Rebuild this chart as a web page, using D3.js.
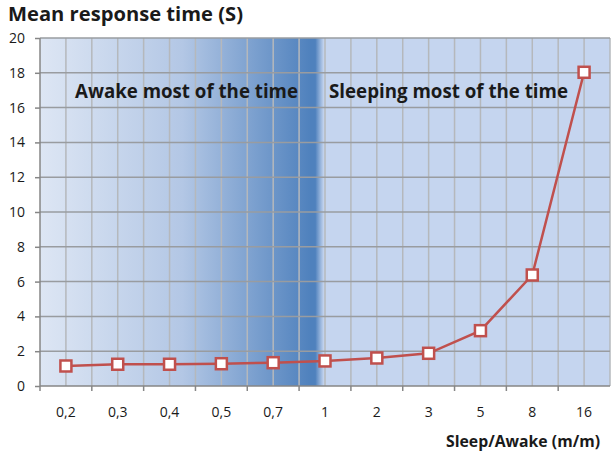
<!DOCTYPE html>
<html>
<head>
<meta charset="utf-8">
<script src="https://cdn.jsdelivr.net/npm/d3@7"></script>
<style>
  body { margin: 0; background: #fff; }
  text { font-family: "Open Sans", "Noto Sans", sans-serif; fill: #1a1a1a; }
</style>
</head>
<body>
<div id="chart"></div>
<script>
// mean response time per sleep/awake ratio
var categories = ["0,2", "0,3", "0,4", "0,5", "0,7", "1", "2", "3", "5", "8", "16"];
var responseTime = [1.15, 1.25, 1.25, 1.28, 1.34, 1.44, 1.61, 1.88, 3.18, 6.38, 18.03];
var yTicks = [0, 2, 4, 6, 8, 10, 12, 14, 16, 18, 20];
var regionLabels = ["Awake most of the time", "Sleeping most of the time"];

var width = 612, height = 456,
    margin = ({ top: 38, right: 2, bottom: 70, left: 40 });

var svg = d3.select("#chart").append("svg")
    .attr("width", width)
    .attr("height", height);

var x = d3.scaleBand()
    .domain(categories)
    .range([margin.left, width - margin.right])
    .padding(0);

var y = d3.scaleLinear()
    .domain([0, 20])
    .range([height - margin.bottom, margin.top]);

// plot area background: gradient up to the middle, flat light blue after
var grad = svg.append("defs").append("linearGradient")
    .attr("id", "bg")
    .attr("x1", "0%").attr("x2", "100%")
    .attr("y1", "0%").attr("y2", "0%");
grad.append("stop").attr("offset", "0%").attr("stop-color", "#dde6f4");
grad.append("stop").attr("offset", "25%").attr("stop-color", "#b3c7e5");
grad.append("stop").attr("offset", "47.5%").attr("stop-color", "#4f81bd");
grad.append("stop").attr("offset", "48.3%").attr("stop-color", "#4f81bd");
grad.append("stop").attr("offset", "49.8%").attr("stop-color", "#c5d5ef");
grad.append("stop").attr("offset", "100%").attr("stop-color", "#c5d5ef");

svg.append("rect")
    .attr("x", x.range()[0])
    .attr("y", y(20))
    .attr("width", x.range()[1] - x.range()[0])
    .attr("height", y(0) - y(20))
    .attr("fill", "url(#bg)");

// vertical gridlines at every half category
var vLines = [];
categories.forEach(function (c) {
    vLines.push(x(c));
    vLines.push(x(c) + x.bandwidth() / 2);
});
vLines.push(x.range()[1]);

svg.append("g")
    .attr("stroke", "#b5b8bc")
    .attr("stroke-width", 1.5)
    .selectAll("line")
    .data(vLines.slice(1))
    .join("line")
    .attr("x1", d => d).attr("x2", d => d)
    .attr("y1", y(20)).attr("y2", y(0));

// horizontal gridlines
svg.append("g")
    .attr("stroke", "#999ca0")
    .attr("stroke-width", 1.5)
    .selectAll("line")
    .data(yTicks.slice(1))
    .join("line")
    .attr("x1", x.range()[0]).attr("x2", x.range()[1])
    .attr("y1", d => y(d)).attr("y2", d => y(d));

// axes
var yAxis = svg.append("g")
    .attr("transform", "translate(" + margin.left + ",0)")
    .call(d3.axisLeft(y).tickValues(yTicks).tickSize(5).tickPadding(10));

var xAxis = svg.append("g")
    .attr("transform", "translate(0," + y(0) + ")")
    .call(d3.axisBottom(x).tickSize(0).tickPadding(21));

xAxis.selectAll(".tick")
    .append("line")
    .attr("x1", -x.bandwidth() / 2).attr("x2", -x.bandwidth() / 2)
    .attr("y1", 0).attr("y2", 5);
xAxis.append("line")
    .attr("x1", x.range()[1]).attr("x2", x.range()[1])
    .attr("y1", 0).attr("y2", 5);

[yAxis, xAxis].forEach(function (a) {
    a.selectAll("path.domain").attr("stroke", "#868686").attr("stroke-width", 1.5);
    a.selectAll(".tick line").attr("stroke", "#868686").attr("stroke-width", 1.5);
    a.selectAll(".tick text")
        .attr("font-family", "'Open Sans', sans-serif")
        .attr("font-size", 14)
        .attr("fill", "#1a1a1a");
});
xAxis.select("path.domain").attr("d", "M" + x.range()[0] + ",0H" + x.range()[1]);
yAxis.select("path.domain").attr("d", "M0," + y(20) + "V" + y(0));

// region labels
svg.append("text")
    .attr("x", 75).attr("y", 98)
    .attr("font-size", 19).attr("font-weight", "bold")
    .attr("textLength", 223).attr("lengthAdjust", "spacingAndGlyphs")
    .text(regionLabels[0]);
svg.append("text")
    .attr("x", 329).attr("y", 98)
    .attr("font-size", 19).attr("font-weight", "bold")
    .attr("textLength", 239).attr("lengthAdjust", "spacingAndGlyphs")
    .text(regionLabels[1]);

// series line and markers
var cx = d => x(d) + x.bandwidth() / 2;
var line = d3.line()
    .x((d, i) => cx(categories[i]))
    .y(d => y(d));

svg.append("path")
    .datum(responseTime)
    .attr("fill", "none")
    .attr("stroke", "#c0504d")
    .attr("stroke-width", 2.5)
    .attr("d", line);

svg.append("g")
    .attr("fill", "#fff")
    .attr("stroke", "#c0504d")
    .attr("stroke-width", 2.5)
    .selectAll("rect")
    .data(responseTime)
    .join("rect")
    .attr("x", (d, i) => cx(categories[i]) - 5.5)
    .attr("y", d => y(d) - 5.5)
    .attr("width", 11)
    .attr("height", 11);

// titles
svg.append("text")
    .attr("x", 8).attr("y", 21)
    .attr("font-size", 20).attr("font-weight", "bold")
    .attr("textLength", 235).attr("lengthAdjust", "spacingAndGlyphs")
    .text("Mean response time (S)");

svg.append("text")
    .attr("x", 446).attr("y", 447)
    .attr("font-size", 16.5).attr("font-weight", "bold")
    .attr("textLength", 154).attr("lengthAdjust", "spacingAndGlyphs")
    .text("Sleep/Awake (m/m)");
</script>
</body>
</html>
